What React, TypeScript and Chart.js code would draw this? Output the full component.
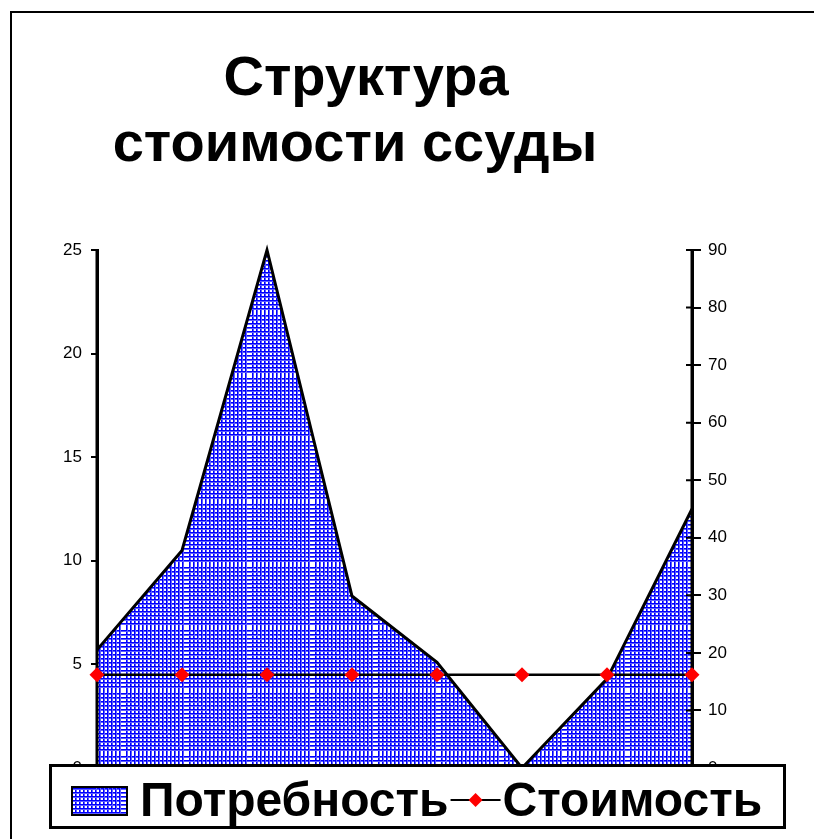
import React, { useEffect, useRef } from "react";
import { Chart, registerables } from "chart.js";

Chart.register(...registerables);

const categories = ["1", "2", "3", "4", "5", "6", "7", "8"];
const needValues = [5.7, 10.5, 25, 8.3, 5.1, 0, 4.3, 12.5];
const costValues = [16.2, 16.2, 16.2, 16.2, 16.2, 16.2, 16.2, 16.2];
const leftAxis = { min: 0, max: 25, step: 5 };
const rightAxis = { min: 0, max: 90, step: 10 };
const seriesNames = ["Потребность", "Стоимость"];
const titleLines = ["Структура", "стоимости ссуды"];

const FONT = '"Liberation Sans", Arial, Helvetica, sans-serif';

function makePattern(): CanvasPattern | string {
  const size = 63;
  const tile = document.createElement("canvas");
  tile.width = size;
  tile.height = size;
  const t = tile.getContext("2d");
  if (!t) return "#3333ff";
  t.fillStyle = "#ffffff";
  t.fillRect(0, 0, size, size);
  for (let i = 0; i < 15; i++) {
    const p = i * 4;
    t.fillStyle = "#0000ff";
    t.fillRect(p, 0, 1, size);
    t.fillRect(0, p, size, 1);
    t.fillStyle = "#5c5cff";
    t.fillRect(p + 1, 0, 1, size);
    t.fillRect(0, p + 1, size, 1);
  }
  const pat = t.createPattern(tile, "repeat");
  return pat || "#3333ff";
}

export default function App() {
  const ref = useRef<HTMLCanvasElement | null>(null);

  useEffect(() => {
    const canvas = ref.current;
    if (!canvas) return;
    const pattern = makePattern();

    const framePlugin = {
      id: "frame",
      beforeDraw(chart: any) {
        const c = chart.ctx;
        c.save();
        c.fillStyle = "#ffffff";
        c.fillRect(0, 0, chart.width, chart.height);
        c.strokeStyle = "#000";
        c.lineWidth = 2;
        c.beginPath();
        c.moveTo(11, chart.height);
        c.lineTo(11, 12);
        c.lineTo(chart.width, 12);
        c.stroke();
        // title
        c.fillStyle = "#000";
        c.font = `bold 56px ${FONT}`;
        c.textAlign = "center";
        c.textBaseline = "alphabetic";
        c.fillText(titleLines[0], 366, 95);
        c.fillText(titleLines[1], 355, 161);
        c.restore();
      },
    };

    const axisPlugin = {
      id: "axisOver",
      afterDatasetDraw(chart: any, args: any) {
        if (args.index !== 0) return;
        const c = chart.ctx;
        const a = chart.chartArea;
        c.save();
        c.strokeStyle = "#000";
        c.lineWidth = 3;
        c.beginPath();
        c.moveTo(a.left, a.top - 1);
        c.lineTo(a.left, a.bottom);
        c.moveTo(a.right, a.top - 1);
        c.lineTo(a.right, a.bottom);
        c.stroke();
        c.lineWidth = 2;
        const s = chart.scales.y1;
        c.beginPath();
        s.ticks.forEach((t: any) => {
          const y = s.getPixelForValue(t.value);
          c.moveTo(a.right - 6, y);
          c.lineTo(a.right, y);
        });
        c.stroke();
        c.restore();
      },
    };

    const legendPlugin = {
      id: "customLegend",
      afterDraw(chart: any) {
        const c = chart.ctx;
        c.save();
        const bx = 50, by = 765, bw = 734, bh = 62;
        c.fillStyle = "#fff";
        c.fillRect(bx, by, bw, bh);
        c.strokeStyle = "#000";
        c.lineWidth = 3;
        c.strokeRect(bx + 0.5, by + 0.5, bw, bh);
        // swatch
        c.fillStyle = pattern as any;
        c.fillRect(72, 787, 55, 28);
        c.lineWidth = 2;
        c.strokeRect(72, 787, 55, 28);
        // text 1
        c.fillStyle = "#000";
        c.font = `bold 48px ${FONT}`;
        c.textAlign = "left";
        c.textBaseline = "alphabetic";
        const baseY = 816;
        let x = 140;
        c.fillText(seriesNames[0], x, baseY);
        x += c.measureText(seriesNames[0]).width + 2;
        // line sample
        c.strokeStyle = "#000";
        c.lineWidth = 2;
        c.beginPath();
        c.moveTo(x, 800);
        c.lineTo(x + 50, 800);
        c.stroke();
        const cx = x + 25, cy = 800, r = 7;
        c.fillStyle = "#ff0000";
        c.beginPath();
        c.moveTo(cx, cy - r);
        c.lineTo(cx + r, cy);
        c.lineTo(cx, cy + r);
        c.lineTo(cx - r, cy);
        c.closePath();
        c.fill();
        x += 52;
        c.fillStyle = "#000";
        c.fillText(seriesNames[1], x, baseY);
        c.restore();
      },
    };

    const chart = new Chart(canvas, {
      type: "line",
      data: {
        labels: categories,
        datasets: [
          {
            label: seriesNames[0],
            data: needValues,
            yAxisID: "y",
            fill: "origin",
            backgroundColor: pattern as any,
            borderColor: "#000",
            borderWidth: 3,
            pointRadius: 0,
            tension: 0,
            order: 2,
            clip: false as any,
          },
          {
            label: seriesNames[1],
            data: costValues,
            yAxisID: "y1",
            fill: false,
            borderColor: "#000",
            borderWidth: 2.5,
            pointStyle: "rectRot",
            pointRadius: 7.5,
            pointBackgroundColor: "#ff0000",
            pointBorderColor: "#ff0000",
            pointBorderWidth: 0,
            tension: 0,
            order: 1,
            clip: false as any,
          },
        ],
      },
      options: {
        animation: false,
        responsive: true,
        maintainAspectRatio: false,
        layout: { padding: { left: 0, right: 0, top: 250, bottom: 71 } },
        plugins: {
          legend: { display: false },
          title: { display: false },
          tooltip: { enabled: false },
        },
        scales: {
          x: { display: false, offset: false },
          y: {
            position: "left",
            min: leftAxis.min,
            max: leftAxis.max,
            ticks: {
              stepSize: leftAxis.step,
              color: "#000",
              padding: 9,
              font: { family: FONT, size: 17 },
            },
            grid: {
              drawOnChartArea: false,
              drawTicks: true,
              tickLength: 6,
              color: "#000",
              lineWidth: 2,
            },
            border: { display: true, color: "#000", width: 3 },
            afterFit(scale: any) {
              scale.width = 97;
            },
          },
          y1: {
            position: "right",
            min: rightAxis.min,
            max: rightAxis.max,
            ticks: {
              stepSize: rightAxis.step,
              color: "#000",
              padding: 7,
              font: { family: FONT, size: 17 },
            },
            grid: {
              drawOnChartArea: false,
              drawTicks: true,
              tickLength: 9,
              color: "#000",
              lineWidth: 2,
            },
            border: { display: true, color: "#000", width: 3 },
            afterFit(scale: any) {
              scale.width = 122;
            },
          },
        },
      } as any,
      plugins: [framePlugin, axisPlugin, legendPlugin],
    });

    return () => chart.destroy();
  }, []);

  return (
    <div style={{ position: "fixed", left: 0, top: 0, width: 814, height: 839 }}>
      <canvas ref={ref} />
    </div>
  );
}
